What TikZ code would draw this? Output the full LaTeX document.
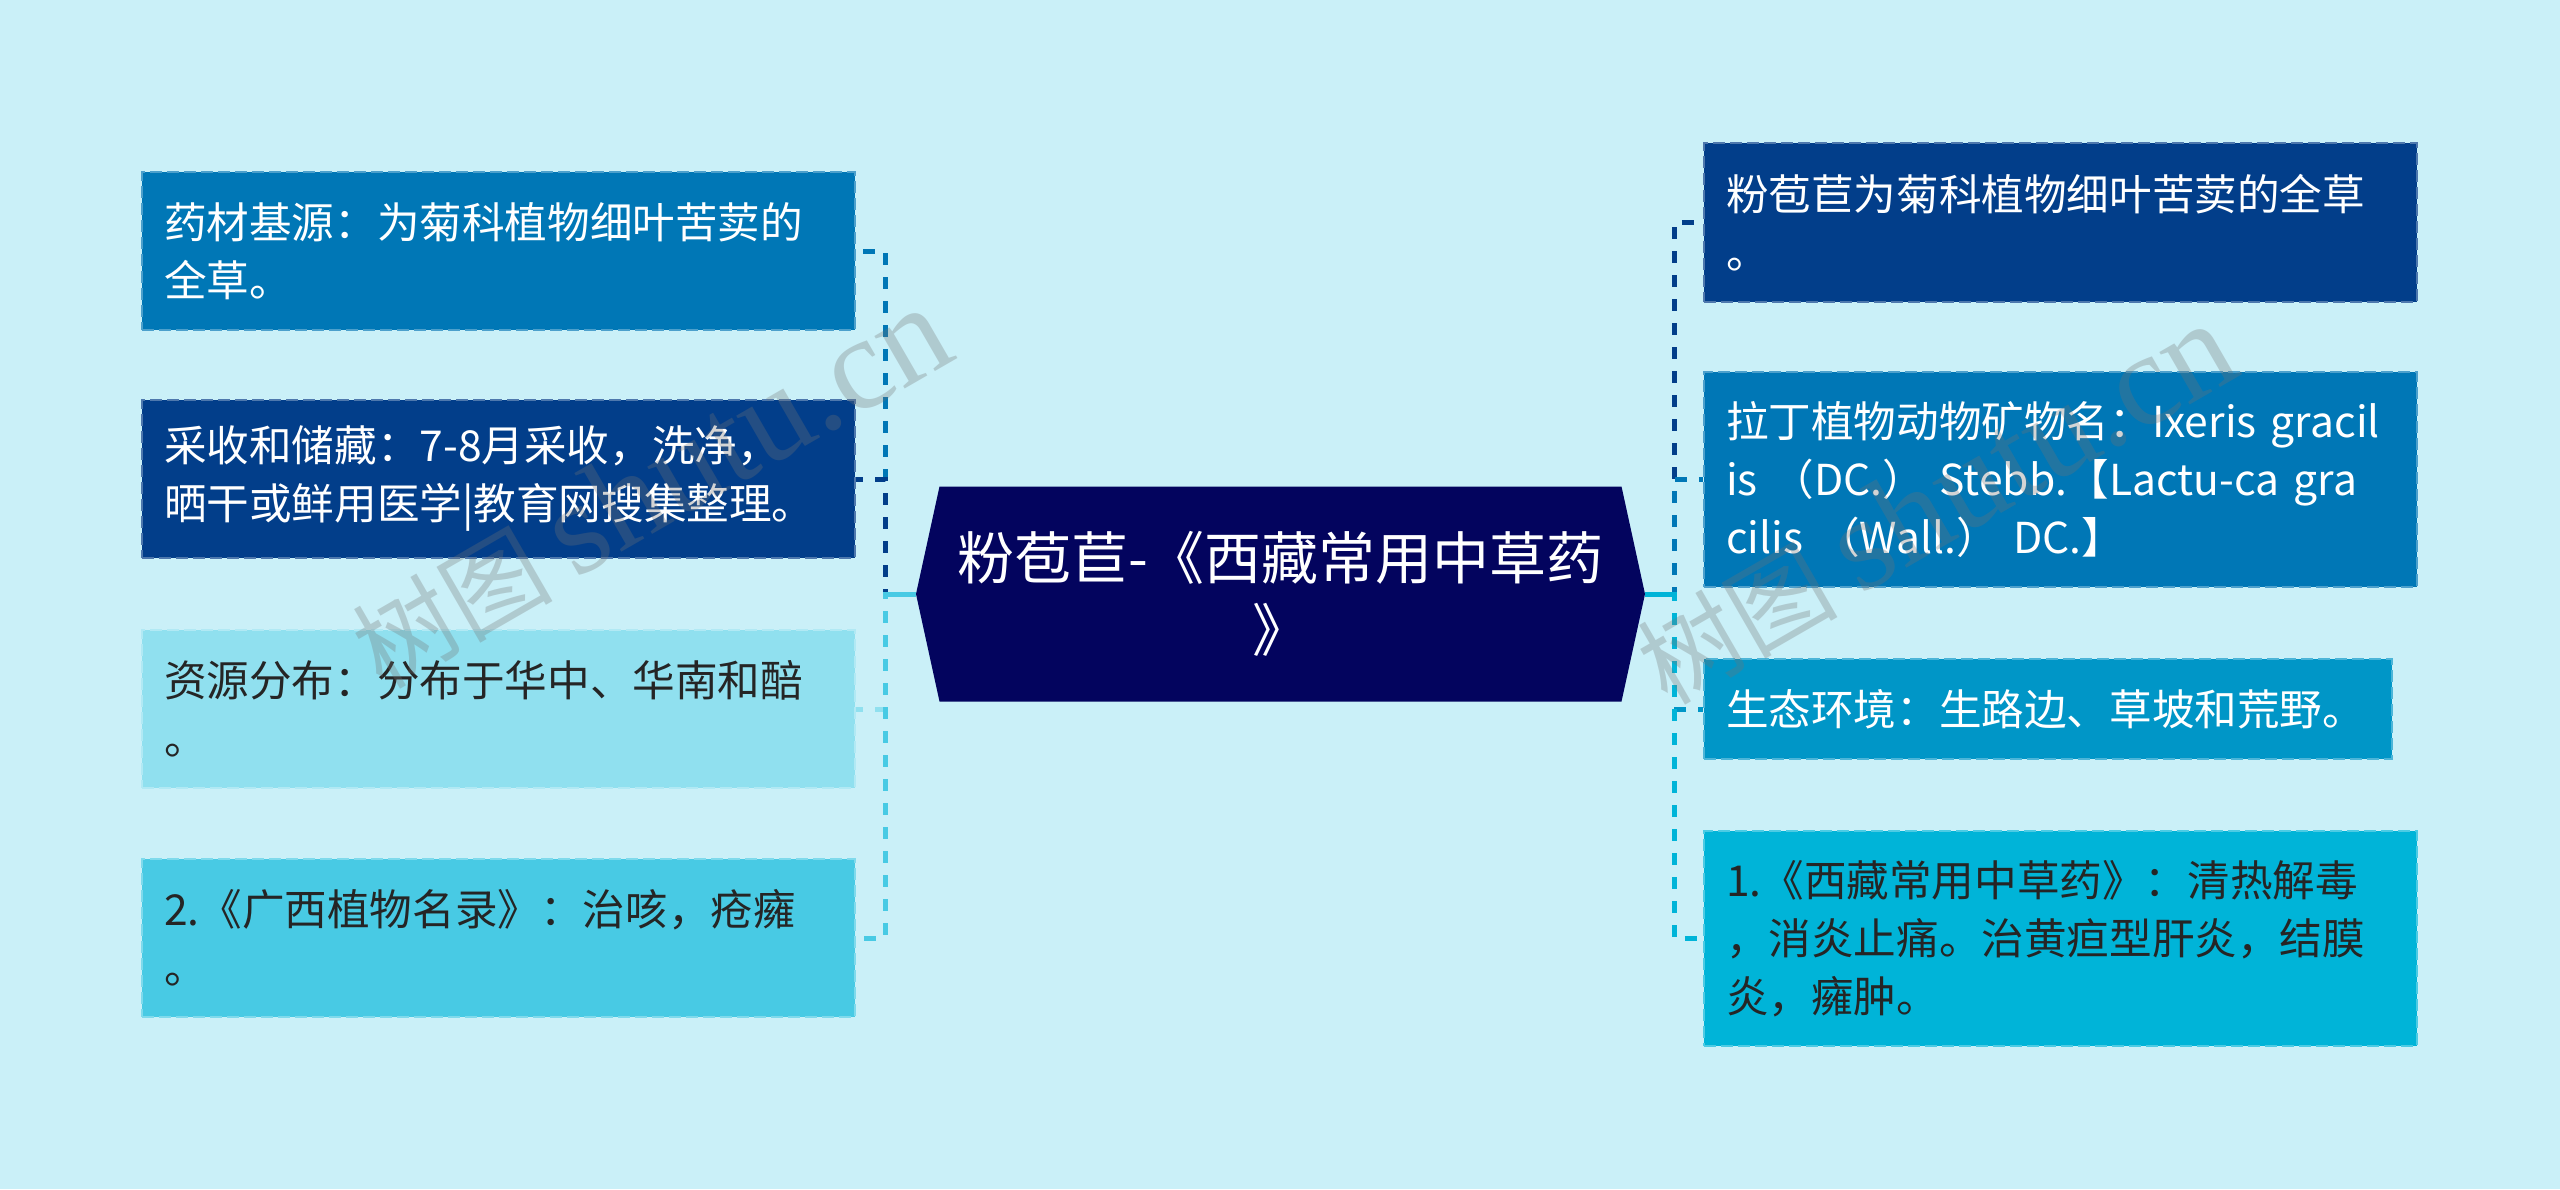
\documentclass[tikz,border=0pt]{standalone}
\usepackage{fontspec}
\setmainfont{Noto Sans CJK SC}
\newfontfamily\wmlatin{Liberation Serif}
\usetikzlibrary{backgrounds}
\definecolor{bgc}{HTML}{CAF0F8}
\definecolor{cA}{HTML}{03045E}
\definecolor{cB}{HTML}{023E8A}
\definecolor{cC}{HTML}{0077B6}
\definecolor{cD}{HTML}{0096C7}
\definecolor{cE}{HTML}{00B4D8}
\definecolor{cF}{HTML}{48CAE4}
\definecolor{cG}{HTML}{90E0EF}
\definecolor{darktext}{HTML}{252525}
\tikzset{
  leaf/.style={rectangle, inner xsep=11pt, inner ysep=0pt,
    minimum width=356.5pt, text width=334.5pt, align=left,
    font=\fontsize{21.3}{29}\selectfont, line width=1pt,
    dash pattern=on 6pt off 2.5pt},
  boxc/.style={fill=#1, draw=#1!70!white},
  conn/.style={line width=2.5pt, dash pattern=on 6pt off 6pt},
  stub/.style={line width=2.5pt},
  hub/.style={rectangle, minimum width=364.5pt, minimum height=107.5pt,
    inner sep=0pt, align=center, text=white,
    font=\fontsize{28.5}{36}\selectfont,
    path picture={\fill[cA]
      ([xshift=11.75pt]path picture bounding box.north west) --
      ([xshift=-11.75pt]path picture bounding box.north east) --
      (path picture bounding box.east) --
      ([xshift=-11.75pt]path picture bounding box.south east) --
      ([xshift=11.75pt]path picture bounding box.south west) --
      (path picture bounding box.west) -- cycle;}},
  wm/.style={text=black!55, text opacity=0.3, rotate=30, inner sep=0pt}
}
\begin{document}
\begin{tikzpicture}[x=0.5pt,y=-0.5pt]
\useasboundingbox (0,0) rectangle (2560,1189);

% central topic
\node[hub] (C) at (1280.5,594) {粉苞苣-《西藏常用中草药\\》};

% left branch
\node[leaf, boxc=cC, text=white, minimum height=79pt] (L1) at (498.5,251)
  {药材基源：为菊科植物细叶苦荬的\\全草。};
\node[leaf, boxc=cB, text=white, minimum height=79pt] (L2) at (498.5,479)
  {采收和储藏：7-8月采收，洗净，\\晒干或鲜用医学|教育网搜集整理。};
\node[leaf, boxc=cG, text=darktext, minimum height=79pt] (L3) at (498.5,709)
  {资源分布：分布于华中、华南和醅\\。};
\node[leaf, boxc=cF, text=darktext, minimum height=79pt] (L4) at (498.5,938)
  {2.《广西植物名录》：治咳，疮癕\\。};

% right branch
\node[leaf, boxc=cB, text=white, minimum height=79.5pt] (R1) at (2060.5,222.5)
  {粉苞苣为菊科植物细叶苦荬的全草\\。};
\node[leaf, boxc=cC, text=white, minimum height=107.5pt] (R2) at (2060.5,479.5)
  {拉丁植物动物矿物名：Ixeris~gracil\\is~（DC.）~Stebb.【Lactu-ca~gra\\cilis~（Wall.）~DC.】};
\node[leaf, boxc=cD, text=white, minimum height=50pt, minimum width=344pt,
  text width=322pt] (R3) at (2048,709)
  {生态环境：生路边、草坡和荒野。};
\node[leaf, boxc=cE, text=darktext, minimum height=107.5pt] (R4) at (2060.5,938.5)
  {1.《西藏常用中草药》：清热解毒\\，消炎止痛。治黄疸型肝炎，结膜\\炎，癕肿。};

\coordinate (jl) at (885,594);
\coordinate (jr) at (1674,594);

\begin{scope}[on background layer]
  \fill[bgc] (0,0) rectangle (2560,1189);
  \draw[conn, cC] (C.west) -- (jl) |- (L1.east);
  \draw[conn, cB] (C.west) -- (jl) |- (L2.east);
  \draw[conn, cG] (C.west) -- (jl) |- (L3.east);
  \draw[conn, cF] (C.west) -- (jl) |- (L4.east);
  \draw[stub, cF] (C.west) -- (jl);
  \draw[conn, cB] (C.east) -- (jr) |- (R1.west);
  \draw[conn, cC] (C.east) -- (jr) |- (R2.west);
  \draw[conn, cD] (C.east) -- (jr) |- (R3.west);
  \draw[conn, cE] (C.east) -- (jr) |- (R4.west);
  \draw[stub, cE] (C.east) -- (jr);
\end{scope}

% watermarks
\node[wm] (W1) at (650,488) {\fontsize{50}{50}\selectfont 树图 {\wmlatin\fontsize{66}{66}\selectfont shutu.cn}};
\node[wm] (W2) at (1935,504) {\fontsize{50}{50}\selectfont 树图 {\wmlatin\fontsize{66}{66}\selectfont shutu.cn}};
\end{tikzpicture}
\end{document}
